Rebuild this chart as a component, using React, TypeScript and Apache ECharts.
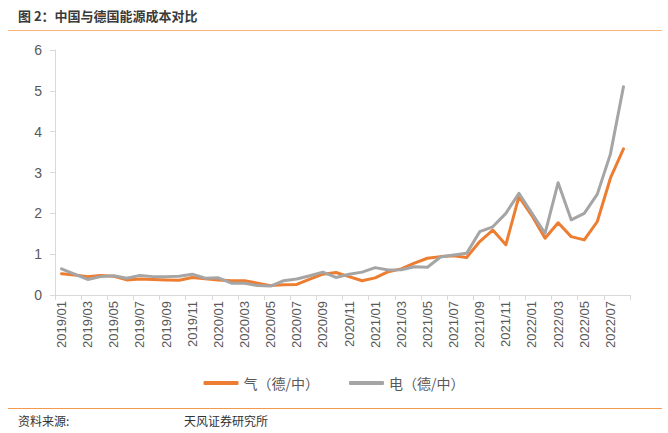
import React, { useEffect, useRef } from "react";
import * as echarts from "echarts";

const categories: string[] = [];
for (let y = 2019; y <= 2022; y++) {
  for (let m = 1; m <= 12; m++) {
    if (y === 2022 && m > 8) break;
    categories.push(`${y}/${m < 10 ? "0" + m : m}`);
  }
}

const gasValues = [
  0.52, 0.49, 0.45, 0.48, 0.46, 0.37, 0.39, 0.38, 0.37, 0.36, 0.43, 0.40,
  0.37, 0.35, 0.35, 0.29, 0.23, 0.25, 0.26, 0.39, 0.51, 0.55, 0.45, 0.35,
  0.42, 0.57, 0.64, 0.78, 0.90, 0.94, 0.96, 0.92, 1.31, 1.59, 1.23, 2.41,
  1.94, 1.39, 1.77, 1.43, 1.35, 1.80, 2.86, 3.58,
];

const elecValues = [
  0.64, 0.51, 0.38, 0.45, 0.47, 0.41, 0.48, 0.45, 0.45, 0.46, 0.51, 0.41,
  0.42, 0.29, 0.29, 0.23, 0.22, 0.35, 0.39, 0.47, 0.56, 0.43, 0.51, 0.56,
  0.67, 0.61, 0.62, 0.69, 0.68, 0.93, 0.98, 1.02, 1.55, 1.67, 2.0, 2.49,
  2.0, 1.51, 2.75, 1.84, 2.0, 2.47, 3.45, 5.10,
];

const seriesNames = ["气（德/中）", "电（德/中）"];
const titleText = "图 2：中国与德国能源成本对比";
const sourceLabel = "资料来源:";
const sourceText = "天风证券研究所";

export default function App() {
  const ref = useRef<HTMLDivElement>(null);
  useEffect(() => {
    if (!ref.current) return;
    const chart = echarts.init(ref.current, null, { renderer: "svg" });
    const cjk = '"Noto Sans CJK SC", "Liberation Sans", sans-serif';
    chart.setOption({
      animation: false,
      backgroundColor: "#ffffff",
      grid: { left: 55, right: 38, top: 50, bottom: 138, containLabel: false },
      graphic: [
        {
          type: "text",
          left: 18,
          top: 9,
          style: {
            text: titleText,
            font: `bold 13px ${cjk}`,
            fill: "#3a3a3a",
          },
        },
        {
          type: "line",
          shape: { x1: 8, y1: 30.5, x2: 662, y2: 30.5 },
          style: { stroke: "#F9B57A", lineWidth: 1.2 },
        },
        {
          type: "line",
          shape: { x1: 8, y1: 408.5, x2: 662, y2: 408.5 },
          style: { stroke: "#F39A4C", lineWidth: 1.2 },
        },
        {
          type: "text",
          left: 18,
          top: 414,
          style: { text: sourceLabel, font: `12px ${cjk}`, fill: "#333" },
        },
        {
          type: "text",
          left: 184,
          top: 414,
          style: { text: sourceText, font: `12px ${cjk}`, fill: "#333" },
        },
      ],
      legend: {
        bottom: 38,
        left: "center",
        itemWidth: 35,
        itemHeight: 4,
        itemGap: 30,
        icon: "roundRect",
        textStyle: { fontSize: 14, color: "#595959", fontFamily: cjk },
        data: seriesNames,
      },
      xAxis: {
        type: "category",
        data: categories,
        boundaryGap: true,
        axisLine: { lineStyle: { color: "#D9D9D9", width: 1 } },
        axisTick: { show: true, interval: 1, length: 5, lineStyle: { color: "#D9D9D9" } },
        axisLabel: {
          interval: 1,
          rotate: 90,
          fontSize: 13,
          color: "#595959",
          fontFamily: '"Liberation Sans", sans-serif',
          margin: 6,
        },
        splitLine: { show: false },
      },
      yAxis: {
        type: "value",
        min: 0,
        max: 6,
        interval: 1,
        axisLine: { show: true, lineStyle: { color: "#D9D9D9", width: 1 } },
        axisTick: { show: true, length: 5, lineStyle: { color: "#D9D9D9" } },
        axisLabel: {
          fontSize: 14,
          color: "#595959",
          fontFamily: '"Liberation Sans", sans-serif',
          margin: 13,
        },
        splitLine: { show: false },
      },
      series: [
        {
          name: seriesNames[0],
          type: "line",
          data: gasValues,
          symbol: "none",
          color: "#ED7D31",
          lineStyle: { width: 3, color: "#ED7D31", join: "round", cap: "round" },
        },
        {
          name: seriesNames[1],
          type: "line",
          data: elecValues,
          symbol: "none",
          color: "#A5A5A5",
          lineStyle: { width: 3, color: "#A5A5A5", join: "round", cap: "round" },
        },
      ],
    });
    return () => chart.dispose();
  }, []);
  return (
    <div
      ref={ref}
      style={{ position: "fixed", left: 0, top: 0, width: 668, height: 433 }}
    />
  );
}
